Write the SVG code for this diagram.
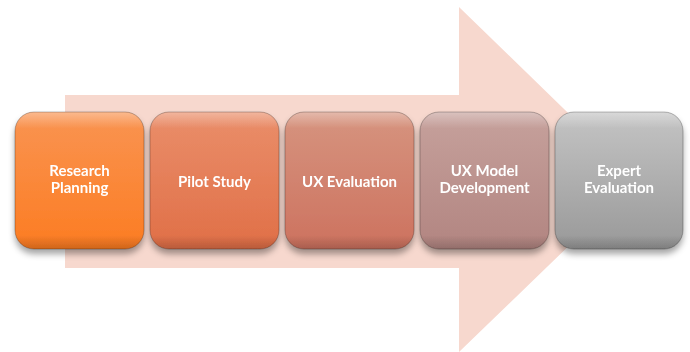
<svg xmlns="http://www.w3.org/2000/svg" width="690" height="352" viewBox="0 0 690 352">
<defs>
<linearGradient id="g1" x1="0" y1="0" x2="0" y2="1"><stop offset="0" stop-color="#F99452"/><stop offset="1" stop-color="#FC7C22"/></linearGradient>
<linearGradient id="g2" x1="0" y1="0" x2="0" y2="1"><stop offset="0" stop-color="#EA8E6A"/><stop offset="1" stop-color="#E06F47"/></linearGradient>
<linearGradient id="g3" x1="0" y1="0" x2="0" y2="1"><stop offset="0" stop-color="#D6947F"/><stop offset="1" stop-color="#CD725F"/></linearGradient>
<linearGradient id="g4" x1="0" y1="0" x2="0" y2="1"><stop offset="0" stop-color="#C6A19C"/><stop offset="1" stop-color="#B28581"/></linearGradient>
<linearGradient id="g5" x1="0" y1="0" x2="0" y2="1"><stop offset="0" stop-color="#C4C4C4"/><stop offset="1" stop-color="#999999"/></linearGradient>
<linearGradient id="hl" x1="0" y1="0" x2="0" y2="1"><stop offset="0" stop-color="#fff" stop-opacity="0.35"/><stop offset="0.12" stop-color="#fff" stop-opacity="0"/><stop offset="0.9" stop-color="#000" stop-opacity="0"/><stop offset="1" stop-color="#000" stop-opacity="0.18"/></linearGradient>
<filter id="sh" x="-10%" y="-10%" width="120%" height="130%"><feGaussianBlur in="SourceAlpha" stdDeviation="3"/><feOffset dx="0" dy="5" result="b"/><feFlood flood-color="#000" flood-opacity="0.35"/><feComposite in2="b" operator="in"/><feMerge><feMergeNode/><feMergeNode in="SourceGraphic"/></feMerge></filter>
<style>
.box{filter:url(#sh);}
.edge{fill:url(#hl);stroke:#000;stroke-opacity:0.25;stroke-width:1}
.t{font-family:Lato,"Open Sans",sans-serif;font-weight:bold;font-size:15px;fill:#fff;text-anchor:middle}
</style>
</defs>
<polygon id="arrow" points="65,95 459,95 459,7 637,180 459,352 459,268 65,268" fill="#F7D8CE"/>
<g id="connectors"/>
<g id="n1" class="box"><rect x="15" y="112" width="129" height="137" rx="19" fill="url(#g1)"/><rect x="15" y="112" width="129" height="137" rx="19" class="edge"/><text class="t" x="79.5" y="176">Research</text><text class="t" x="79.5" y="193">Planning</text></g>
<g id="n2" class="box"><rect x="150" y="112" width="129" height="137" rx="19" fill="url(#g2)"/><rect x="150" y="112" width="129" height="137" rx="19" class="edge"/><text class="t" x="214.5" y="187">Pilot Study</text></g>
<g id="n3" class="box"><rect x="285" y="112" width="129" height="137" rx="19" fill="url(#g3)"/><rect x="285" y="112" width="129" height="137" rx="19" class="edge"/><text class="t" x="349.5" y="187">UX Evaluation</text></g>
<g id="n4" class="box"><rect x="420" y="112" width="129" height="137" rx="19" fill="url(#g4)"/><rect x="420" y="112" width="129" height="137" rx="19" class="edge"/><text class="t" x="484.5" y="176">UX Model</text><text class="t" x="484.5" y="193">Development</text></g>
<g id="n5" class="box"><rect x="555" y="112" width="128" height="137" rx="19" fill="url(#g5)"/><rect x="555" y="112" width="128" height="137" rx="19" class="edge"/><text class="t" x="619" y="176">Expert</text><text class="t" x="619" y="193">Evaluation</text></g>
</svg>
